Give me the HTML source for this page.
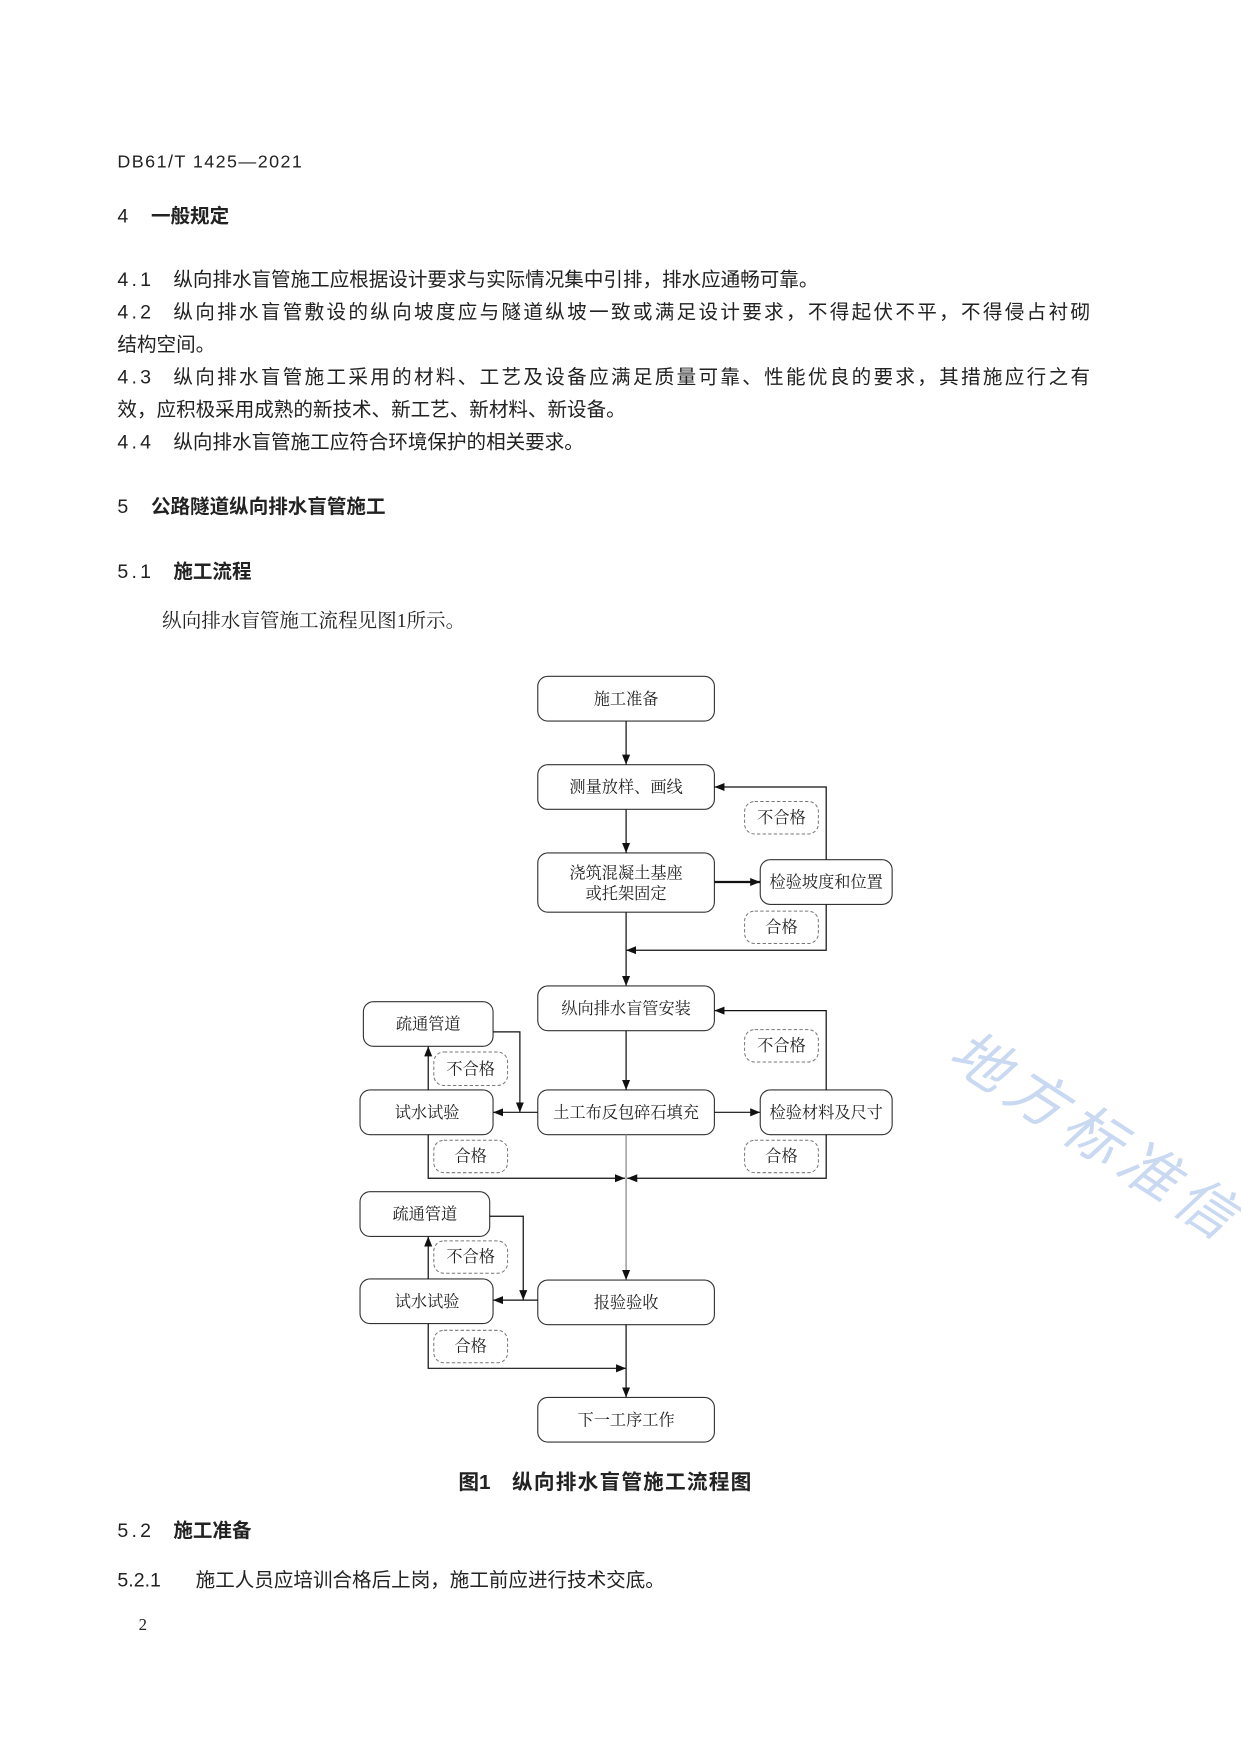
<!DOCTYPE html>
<html><head><meta charset="utf-8"><style>
html,body{margin:0;padding:0;background:#fff;}
svg{display:block}
.b{font-family:"Liberation Sans","Noto Sans CJK SC",sans-serif;font-size:17.5px;fill:#222}
.s{font-family:"Liberation Serif","Noto Serif CJK SC",serif;font-size:14.5px;fill:#222}
.box{fill:#fff;stroke:#333;stroke-width:1}
.d{fill:#fff;stroke:#777;stroke-width:0.9;stroke-dasharray:3,2}
.l{stroke:#111;stroke-width:1.1;fill:none}
</style></head><body>
<svg width="1241" height="1754" viewBox="0 0 1110 1569" xmlns="http://www.w3.org/2000/svg">
<defs><marker id="a" viewBox="0 0 10 10" refX="10" refY="5" markerWidth="9" markerHeight="9" markerUnits="userSpaceOnUse" orient="auto"><path d="M0,1 L10,5 L0,9 z" fill="#111"/></marker></defs>
<text class="b" x="105" y="150" style="font-size:16px" textLength="165">DB61/T 1425—2021</text>
<text class="b" x="105" y="199">4</text><text class="b" x="135" y="199" style="font-weight:bold">一般规定</text>
<text class="b" x="105" y="256" textLength="30">4.1</text><text class="b" x="155" y="256">纵向排水盲管施工应根据设计要求与实际情况集中引排，排水应通畅可靠。</text>
<text class="b" x="105" y="285" textLength="30">4.2</text><text class="b" x="155" y="285" textLength="820">纵向排水盲管敷设的纵向坡度应与隧道纵坡一致或满足设计要求，不得起伏不平，不得侵占衬砌</text>
<text class="b" x="105" y="314">结构空间。</text>
<text class="b" x="105" y="343" textLength="30">4.3</text><text class="b" x="155" y="343" textLength="820">纵向排水盲管施工采用的材料、工艺及设备应满足质量可靠、性能优良的要求，其措施应行之有</text>
<text class="b" x="105" y="372">效，应积极采用成熟的新技术、新工艺、新材料、新设备。</text>
<text class="b" x="105" y="401" textLength="30">4.4</text><text class="b" x="155" y="401">纵向排水盲管施工应符合环境保护的相关要求。</text>
<text class="b" x="105" y="459">5</text><text class="b" x="135" y="459" style="font-weight:bold">公路隧道纵向排水盲管施工</text>
<text class="b" x="105" y="517" textLength="30">5.1</text><text class="b" x="155" y="517" style="font-weight:bold">施工流程</text>
<text class="s" x="145" y="561" style="font-size:17.5px">纵向排水盲管施工流程见图1所示。</text>

<g>
<rect class="box" x="481" y="605" width="158" height="40" rx="9"/><text class="s" x="560" y="630" text-anchor="middle">施工准备</text>
<rect class="box" x="481" y="684" width="158" height="40" rx="9"/><text class="s" x="560" y="709" text-anchor="middle">测量放样、画线</text>
<rect class="box" x="481" y="763" width="158" height="53" rx="9"/><text class="s" x="560" y="786" text-anchor="middle">浇筑混凝土基座</text><text class="s" x="560" y="804" text-anchor="middle">或托架固定</text>
<rect class="box" x="680" y="769" width="118" height="40" rx="9"/><text class="s" x="739" y="794" text-anchor="middle">检验坡度和位置</text>
<rect class="d" x="666" y="717" width="66" height="29" rx="9"/><text class="s" x="699" y="736" text-anchor="middle">不合格</text>
<rect class="d" x="666" y="815" width="66" height="29" rx="9"/><text class="s" x="699" y="834" text-anchor="middle">合格</text>
<line class="l" x1="560" y1="645" x2="560" y2="684" marker-end="url(#a)"/>
<line class="l" x1="560" y1="724" x2="560" y2="763" marker-end="url(#a)"/>
<line class="l" x1="639" y1="789" x2="680" y2="789" marker-end="url(#a)" style="stroke-width:2"/>
<polyline class="l" points="739,769 739,704 639,704" marker-end="url(#a)"/>
<polyline class="l" points="739,809 739,850 560,850" marker-end="url(#a)"/>
<line class="l" x1="560" y1="816" x2="560" y2="882" marker-end="url(#a)"/>

<rect class="box" x="481" y="882" width="158" height="40" rx="9"/><text class="s" x="560" y="907" text-anchor="middle">纵向排水盲管安装</text>
<rect class="box" x="481" y="975" width="158" height="40" rx="9"/><text class="s" x="560" y="1000" text-anchor="middle">土工布反包碎石填充</text>
<rect class="box" x="680" y="975" width="118" height="40" rx="9"/><text class="s" x="739" y="1000" text-anchor="middle">检验材料及尺寸</text>
<rect class="d" x="666" y="921" width="66" height="29" rx="9"/><text class="s" x="699" y="940" text-anchor="middle">不合格</text>
<rect class="d" x="666" y="1020" width="66" height="29" rx="9"/><text class="s" x="699" y="1039" text-anchor="middle">合格</text>
<line class="l" x1="560" y1="922" x2="560" y2="975" marker-end="url(#a)"/>
<line class="l" x1="639" y1="995" x2="680" y2="995" marker-end="url(#a)"/>
<polyline class="l" points="739,975 739,904 639,904" marker-end="url(#a)"/>
<polyline class="l" points="739,1015 739,1054 561,1054" marker-end="url(#a)"/>
<rect class="box" x="325" y="896" width="116" height="40" rx="9"/><text class="s" x="383" y="921" text-anchor="middle">疏通管道</text>
<rect class="box" x="322" y="975" width="119" height="40" rx="9"/><text class="s" x="382" y="1000" text-anchor="middle">试水试验</text>
<rect class="d" x="388" y="941" width="66" height="30" rx="9"/><text class="s" x="421" y="961" text-anchor="middle">不合格</text>
<rect class="d" x="388" y="1020" width="66" height="29" rx="9"/><text class="s" x="421" y="1039" text-anchor="middle">合格</text>
<polyline class="l" points="441,923 465,923 465,995" marker-end="url(#a)"/>
<line class="l" x1="481" y1="995" x2="441" y2="995" marker-end="url(#a)"/>
<line class="l" x1="383" y1="975" x2="383" y2="936" marker-end="url(#a)"/>
<polyline class="l" points="383,1015 383,1054 559,1054" marker-end="url(#a)"/>
<line x1="560" y1="1015" x2="560" y2="1145" stroke="#888" stroke-width="1.1" marker-end="url(#a)"/>

<rect class="box" x="322" y="1066" width="116" height="40" rx="9"/><text class="s" x="380" y="1091" text-anchor="middle">疏通管道</text>
<rect class="box" x="322" y="1144" width="119" height="40" rx="9"/><text class="s" x="382" y="1169" text-anchor="middle">试水试验</text>
<rect class="box" x="481" y="1145" width="158" height="40" rx="9"/><text class="s" x="560" y="1170" text-anchor="middle">报验验收</text>
<rect class="d" x="388" y="1110" width="66" height="29" rx="9"/><text class="s" x="421" y="1129" text-anchor="middle">不合格</text>
<rect class="d" x="388" y="1190" width="66" height="29" rx="9"/><text class="s" x="421" y="1209" text-anchor="middle">合格</text>
<polyline class="l" points="438,1088 468,1088 468,1163" marker-end="url(#a)"/>
<line class="l" x1="481" y1="1163" x2="441" y2="1163" marker-end="url(#a)"/>
<line class="l" x1="383" y1="1144" x2="383" y2="1106" marker-end="url(#a)"/>
<polyline class="l" points="383,1184 383,1224 560,1224" marker-end="url(#a)"/>
<line class="l" x1="560" y1="1185" x2="560" y2="1250" marker-end="url(#a)"/>
<rect class="box" x="481" y="1250" width="158" height="40" rx="9"/><text class="s" x="560" y="1275" text-anchor="middle">下一工序工作</text>
</g>

<text class="b" x="410" y="1332" style="font-size:18.5px;font-weight:bold">图1</text><text class="b" x="458" y="1332" style="font-size:18.5px;font-weight:bold" textLength="214">纵向排水盲管施工流程图</text>
<text class="b" x="105" y="1375" textLength="30">5.2</text><text class="b" x="155" y="1375" style="font-weight:bold">施工准备</text>
<text class="b" x="105" y="1419">5.2.1</text><text class="b" x="175" y="1419">施工人员应培训合格后上岗，施工前应进行技术交底。</text>
<text class="s" x="124" y="1458" style="font-size:15px">2</text>
<text x="0" y="0" transform="translate(845,950) rotate(33)" style="font-family:'Noto Sans CJK SC',sans-serif;font-size:52px;fill:#c9d9f2;font-style:italic" letter-spacing="8">地方标准信</text>
</svg>
</body></html>
